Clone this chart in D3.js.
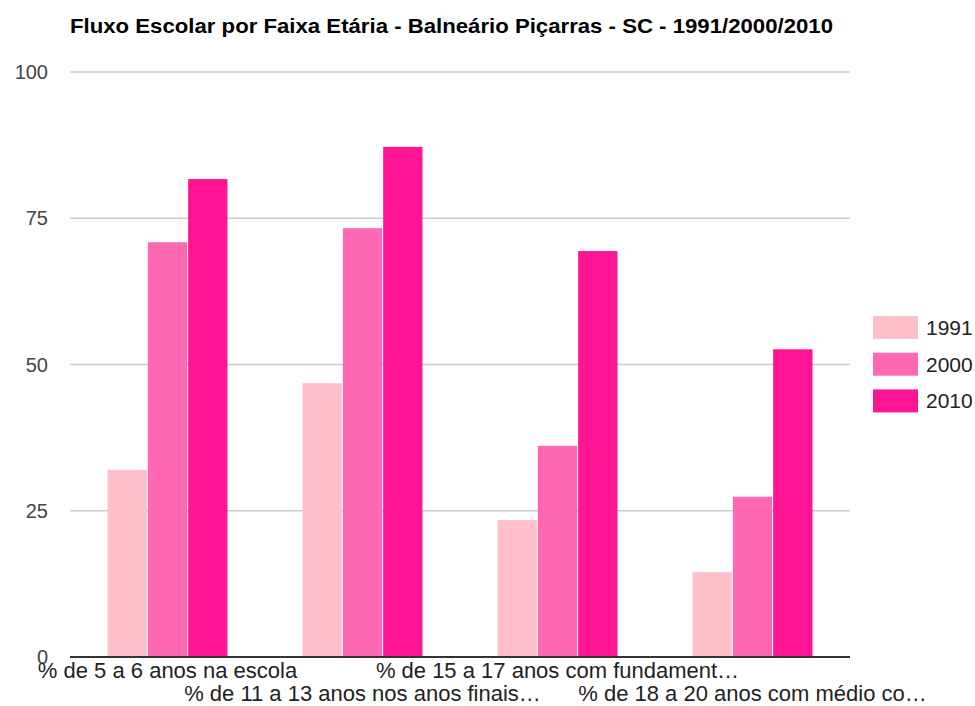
<!DOCTYPE html>
<html>
<head>
<meta charset="utf-8">
<script src="https://cdn.jsdelivr.net/npm/d3@7"></script>
<style>
  body { margin: 0; background: #fff; }
  text { font-family: "Liberation Sans", Arial, sans-serif; }
</style>
</head>
<body>
<div id="chart"></div>
<script>
// data
const categories = [
  "% de 5 a 6 anos na escola",
  "% de 11 a 13 anos nos anos finais…",
  "% de 15 a 17 anos com fundament…",
  "% de 18 a 20 anos com médio co…"
];
const years = ["1991", "2000", "2010"];
const values1991 = [32.0, 46.8, 23.4, 14.5];
const values2000 = [70.9, 73.3, 36.1, 27.4];
const values2010 = [81.7, 87.2, 69.4, 52.6];
const yTicks = [0, 25, 50, 75, 100];
const colors = ["#FFC0CB", "#FF69B4", "#FF1493"];

const series = [values1991, values2000, values2010];

const width = 975, height = 706;
const margin = {top: 72, right: 125, bottom: 49, left: 70};

const svg = d3.select("#chart")
  .append("svg")
  .attr("width", width)
  .attr("height", height);

// title
svg.append("text")
  .attr("x", 70)
  .attr("y", 33)
  .attr("font-size", "21px")
  .attr("font-weight", "bold")
  .attr("fill", "#000")
  .attr("textLength", 763)
  .attr("lengthAdjust", "spacingAndGlyphs")
  .text("Fluxo Escolar por Faixa Etária - Balneário Piçarras - SC - 1991/2000/2010");

const x0 = d3.scaleBand()
  .domain(categories)
  .range([margin.left, width - margin.right])
  .paddingInner(0.385)
  .paddingOuter(0.1925);

const x1 = d3.scaleBand()
  .domain(years)
  .range([0, x0.bandwidth()])
  .paddingInner(0.025);

const y = d3.scaleLinear()
  .domain([0, 100])
  .range([height - margin.bottom, margin.top]);

// gridlines
svg.append("g")
  .selectAll("line")
  .data(yTicks.filter(d => d > 0))
  .join("line")
    .attr("x1", margin.left)
    .attr("x2", width - margin.right)
    .attr("y1", d => y(d))
    .attr("y2", d => y(d))
    .attr("stroke", "#cccccc")
    .attr("stroke-width", 1.5);

// y tick labels
svg.append("g")
  .selectAll("text")
  .data(yTicks)
  .join("text")
    .attr("x", 48)
    .attr("y", d => y(d))
    .attr("dy", "0.35em")
    .attr("text-anchor", "end")
    .attr("font-size", "20px")
    .attr("fill", "#444")
    .text(d => d);

// bars
const groups = svg.append("g")
  .selectAll("g")
  .data(categories)
  .join("g")
    .attr("transform", d => `translate(${x0(d)},0)`);

groups.selectAll("rect")
  .data((d, i) => years.map((yr, j) => ({year: yr, value: series[j][i], color: colors[j]})))
  .join("rect")
    .attr("x", d => x1(d.year))
    .attr("y", d => y(d.value))
    .attr("width", x1.bandwidth())
    .attr("height", d => y(0) - y(d.value))
    .attr("fill", d => d.color);

// baseline
svg.append("line")
  .attr("x1", margin.left)
  .attr("x2", width - margin.right)
  .attr("y1", y(0))
  .attr("y2", y(0))
  .attr("stroke", "#333")
  .attr("stroke-width", 2);

// category labels, staggered on two rows
svg.append("g")
  .selectAll("text")
  .data(categories)
  .join("text")
    .attr("x", d => x0(d) + x0.bandwidth() / 2)
    .attr("y", (d, i) => i % 2 === 0 ? 678 : 701)
    .attr("text-anchor", "middle")
    .attr("font-size", "22px")
    .attr("fill", "#222")
    .text(d => d);

// legend
const legend = svg.append("g")
  .selectAll("g")
  .data(years)
  .join("g")
    .attr("transform", (d, i) => `translate(873,${316 + i * 36.7})`);

legend.append("rect")
  .attr("width", 45)
  .attr("height", 23)
  .attr("fill", (d, i) => colors[i]);

legend.append("text")
  .attr("x", 53)
  .attr("y", 11.5)
  .attr("dy", "0.35em")
  .attr("font-size", "21px")
  .attr("fill", "#222")
  .text(d => d);
</script>
</body>
</html>
